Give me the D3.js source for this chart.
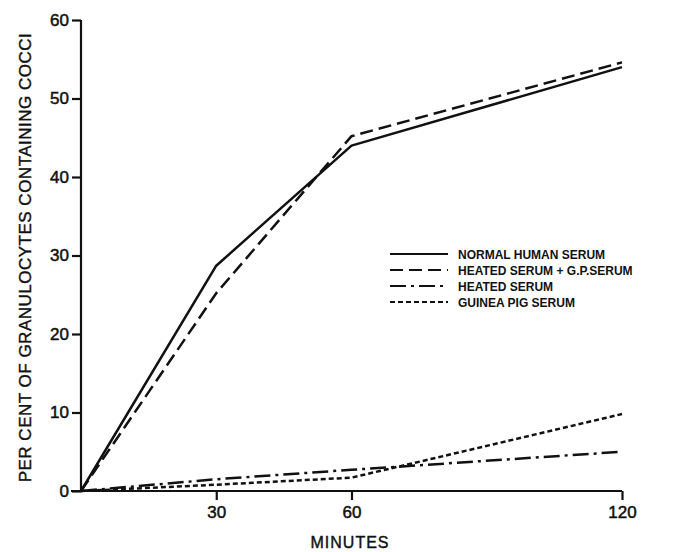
<!DOCTYPE html>
<html><head><meta charset="utf-8">
<script src="https://cdn.jsdelivr.net/npm/d3@7"></script>
<style>body{margin:0;background:#fff}svg{display:block}</style>
</head><body><svg id="c" width="689" height="552"></svg>
<script>
const minutes = [0, 30, 60, 120];
const normalHuman = [0, 28.7, 44, 54];
const heatedPlusGP = [0, 25.2, 45.2, 54.6];
const heatedSerum = [0, 1.5, 2.7, 5.0];
const guineaPig = [0, 0.8, 1.7, 9.8];
const seriesNames = ["NORMAL HUMAN SERUM", "HEATED SERUM + G.P.SERUM", "HEATED SERUM", "GUINEA PIG SERUM"];
const xTicks = [30, 60, 120];
const yTicks = [0, 10, 20, 30, 40, 50, 60];

const svg = d3.select("#c");
const x = d3.scaleLinear().domain([0, 120]).range([81, 622]);
const y = d3.scaleLinear().domain([0, 60]).range([491, 20]);
const font = "'Liberation Sans', Arial, sans-serif";
const dashes = [null, "13,6", "16,5,3,5", "5,3"];
const series = [normalHuman, heatedPlusGP, heatedSerum, guineaPig];

// axes
const yAxis = svg.append("g").attr("transform", `translate(${x(0)},0)`)
  .call(d3.axisLeft(y).tickValues(yTicks).tickSize(9).tickPadding(3));
yAxis.select(".domain").attr("d", `M0,${y(60)}H0V${y(0)}`);
const xAxis = svg.append("g").attr("transform", `translate(0,${y(0)})`)
  .call(d3.axisBottom(x).tickValues(xTicks).tickSize(9).tickPadding(6));
xAxis.select(".domain").attr("d", `M${x(0)-10},0H${x(120)}`);
svg.selectAll(".domain, .tick line").attr("stroke", "#111").attr("stroke-width", 2.2);
svg.selectAll(".tick text").attr("font-family", font).attr("font-size", 17).attr("fill", "#111")
  .attr("stroke", "#111").attr("stroke-width", 0.5);

// lines
const line = d3.line().x((d, i) => x(minutes[i])).y(d => y(d));
series.forEach((s, i) => {
  svg.append("path").datum(s).attr("d", line).attr("fill", "none")
    .attr("stroke", "#111").attr("stroke-width", 2.5)
    .attr("stroke-dasharray", dashes[i]).attr("stroke-linejoin", "round");
});

// legend
seriesNames.forEach((n, i) => {
  const yy = 254 + i * 16;
  svg.append("line").attr("x1", 390).attr("x2", 448).attr("y1", yy).attr("y2", yy)
    .attr("stroke", "#111").attr("stroke-width", 2.2).attr("stroke-dasharray", dashes[i]);
  svg.append("text").attr("x", 458).attr("y", yy + 4.5).text(n)
    .attr("font-family", font).attr("font-weight", "bold").attr("font-size", 12).attr("fill", "#111");
});

// axis titles
svg.append("text").attr("transform", `translate(31,${(y(0)+y(60))/2+2}) rotate(-90)`)
  .attr("text-anchor", "middle").attr("font-family", font).attr("font-size", 17).attr("fill", "#111")
  .attr("stroke", "#111").attr("stroke-width", 0.4)
  .attr("letter-spacing", 0.5).text("PER CENT OF GRANULOCYTES CONTAINING COCCI");
svg.append("text").attr("x", 350).attr("y", 548).attr("text-anchor", "middle")
  .attr("font-family", font).attr("font-size", 16).attr("letter-spacing", 1).attr("fill", "#111")
  .attr("stroke", "#111").attr("stroke-width", 0.4).text("MINUTES");
</script></body></html>
